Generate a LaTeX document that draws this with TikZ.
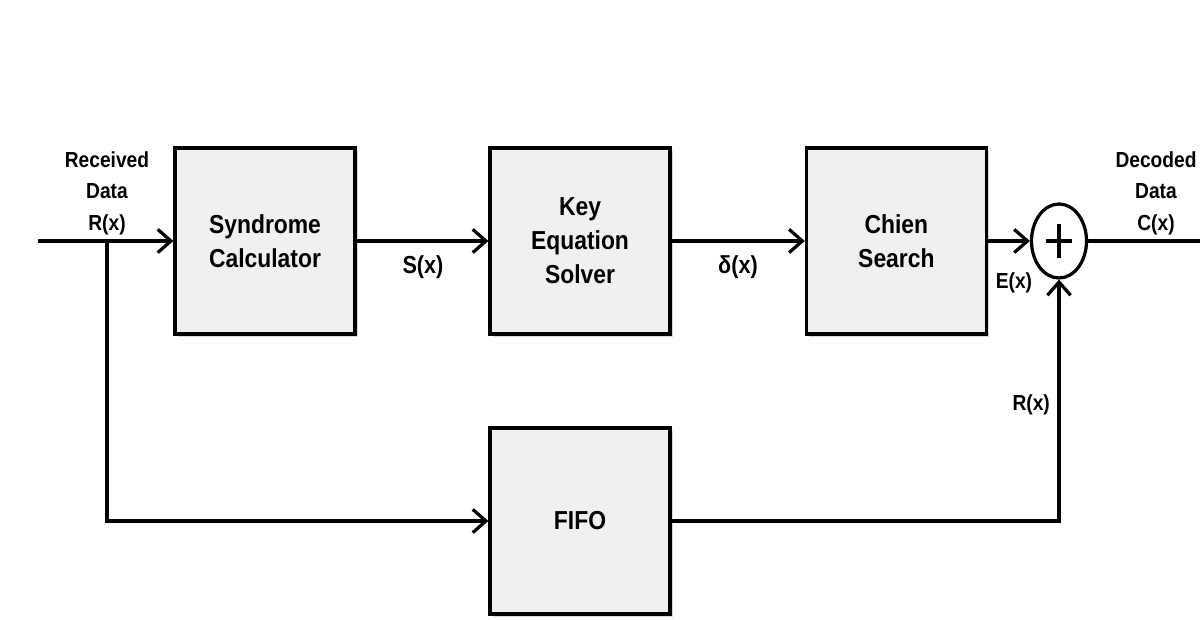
\documentclass[tikz,border=0pt]{standalone}
\usepackage{fontspec}
\setmainfont{Liberation Sans}[FakeStretch=0.88]
\usetikzlibrary{positioning,arrows.meta,shapes.geometric,shadows}

\begin{document}
\begin{tikzpicture}[
  font=\bfseries,
  block/.style={draw, line width=2.3pt, fill=gray!12, minimum width=4.5cm, minimum height=4.65cm, align=center,
    font=\fontsize{18.5}{24.2}\selectfont\bfseries,
    drop shadow={shadow xshift=0.7mm, shadow yshift=-0.7mm, opacity=0.3, fill=gray}},
  sumnode/.style={ellipse, draw, line width=2.3pt, fill=white, minimum width=1.375cm, minimum height=1.85cm, inner sep=0pt},
  lbl/.style={align=center, font=\fontsize{15.5}{22.4}\selectfont\bfseries},
  siglbl/.style={lbl, font=\fontsize{17.5}{22}\selectfont\bfseries},
  arr/.style={-{Straight Barb[length=3.3mm,width=5.8mm]}, line width=2.3pt},
  wire/.style={line width=2.3pt}]
  \useasboundingbox (0,0) rectangle (30,15.475);
  % decoder blocks
  \node[block] (syn) at (6.625,9.45) {Syndrome\\Calculator};
  \node[block] (kes) at (14.5,9.45) {Key\\Equation\\Solver};
  \node[block] (chien) at (22.41,9.45) {Chien\\Search};
  \node[block] (fifo) at (14.5,2.45) {FIFO};
  % adder
  \node[sumnode] (add) at (26.475,9.45) {};
  \draw[wire] ([xshift=-3.3mm]add.center) -- ([xshift=3.3mm]add.center)
              ([yshift=-4.3mm]add.center) -- ([yshift=4.3mm]add.center);
  % free ends
  \coordinate (in) at (0.95,9.45);
  \coordinate (tap) at (2.675,9.45);
  \coordinate (out) at (30,9.45);
  % labels
  \node[lbl] (rin) at (2.675,10.65) {Received\\Data\\R(x)};
  \node[lbl] (dout) at (28.9,10.65) {Decoded\\Data\\C(x)};
  \node[siglbl] (sx) at (10.575,8.8) {S(x)};
  \node[siglbl] (dx) at (18.45,8.8) {δ(x)};
  \node[lbl] (ex) at (25.35,8.4) {E(x)};
  \node[lbl] (rx) at (25.78,5.35) {R(x)};
  % connectors
  \draw[arr] (in) -- (syn.west);
  \draw[arr] (tap) |- (fifo.west);
  \draw[arr] (syn) -- (kes);
  \draw[arr] (kes) -- (chien);
  \draw[arr] (chien) -- (add);
  \draw[wire] (add) -- (out);
  \draw[arr] (fifo.east) -| (add.south);
\end{tikzpicture}
\end{document}
